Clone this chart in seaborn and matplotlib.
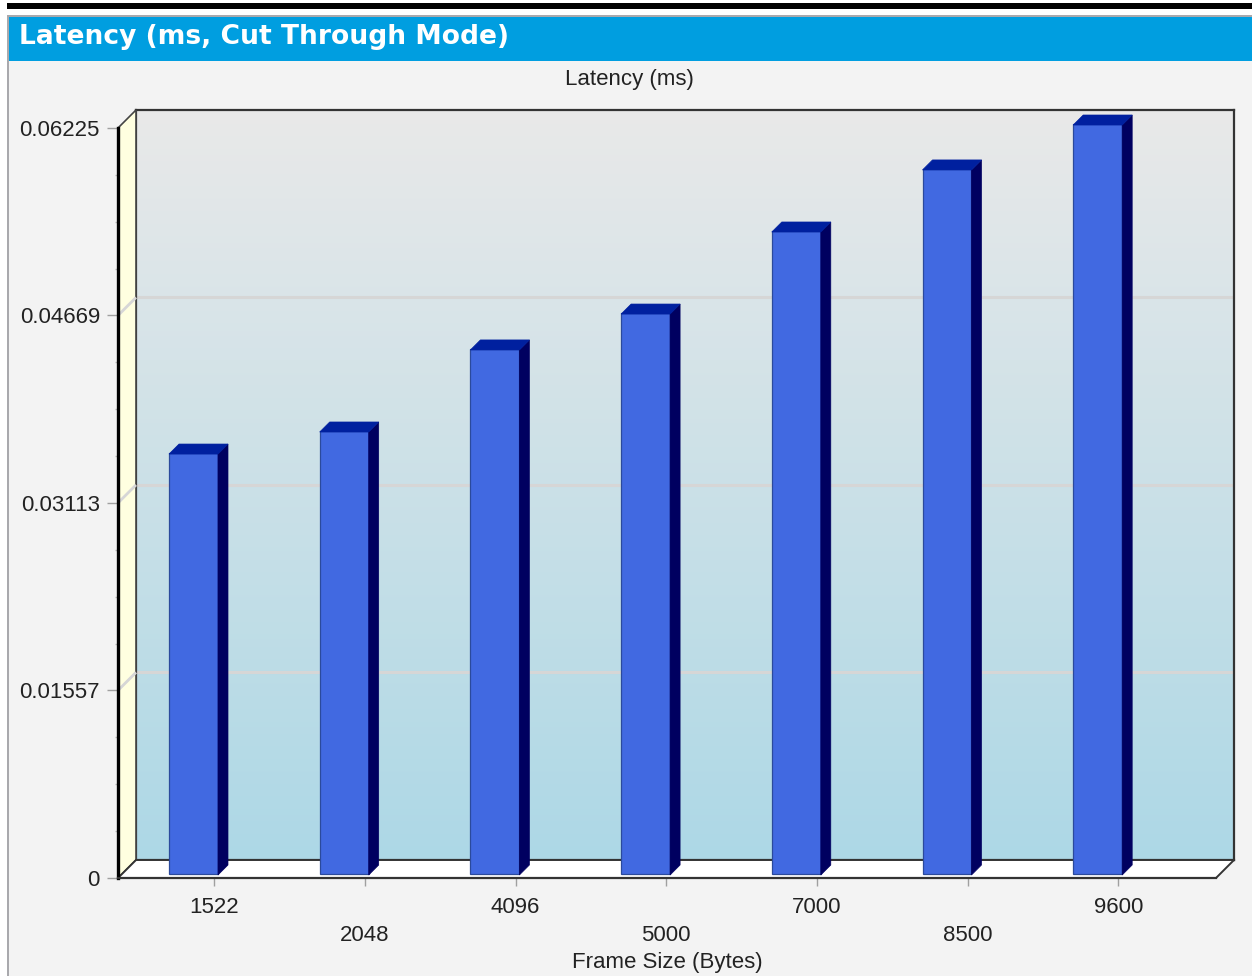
import numpy as np
import pandas as pd
import matplotlib
matplotlib.use('Agg')
import matplotlib.pyplot as plt
from matplotlib.patches import Polygon, Rectangle
from matplotlib.transforms import ScaledTranslation
import seaborn as sns

# values
frame_sizes = ['1522', '2048', '4096', '5000', '7000', '8500', '9600']
latency = [0.03494, 0.03677, 0.04358, 0.04656, 0.05337, 0.05852, 0.06225]
y_ticks = [0, 0.01557, 0.03113, 0.04669, 0.06225]
y_tick_labels = ['0', '0.01557', '0.03113', '0.04669', '0.06225']

W, H = 1252, 976
DEPTH_X, DEPTH_Y = 18, 18      # wall depth, pixels
BAR_DX, BAR_DY = 10, 10        # bar depth, pixels


def box(left, top, right, bottom):
    return [left / W, 1 - bottom / H, (right - left) / W, (bottom - top) / H]


def fig_poly(points, **kw):
    pts = [(x / W, 1 - y / H) for x, y in points]
    fig.add_artist(Polygon(pts, closed=True, transform=fig.transFigure, **kw))


sns.set_theme(style="white")
plt.rcParams['font.family'] = ['Liberation Sans', 'DejaVu Sans']

df = pd.DataFrame({'Frame': frame_sizes, 'Latency': latency})

fig = plt.figure(figsize=(W / 100, H / 100), dpi=100, facecolor='white')

# page panel and header
fig.add_artist(Rectangle((7 / W, 1 - 9 / H), 1 - 7 / W, 6 / H, transform=fig.transFigure, color='black', lw=0))
fig.add_artist(Rectangle((7 / W, 0), 1 - 7 / W, 1 - 15 / H, transform=fig.transFigure,
                         facecolor='#a9a9ad', lw=0))
fig.add_artist(Rectangle((9 / W, 0), 1 - 9 / W, 1 - 17 / H, transform=fig.transFigure,
                         facecolor='#f3f3f3', lw=0))
fig.add_artist(Rectangle((9 / W, 1 - 61 / H), 1 - 9 / W, 44 / H, transform=fig.transFigure,
                         facecolor='#009ee0', lw=0))
fig.text(19 / W, 1 - 37 / H, 'Latency (ms, Cut Through Mode)', color='white', fontsize=19.1,
         fontweight='bold', family='DejaVu Sans', va='center', ha='left')
fig.text(629 / W, 1 - 79 / H, 'Latency (ms)', color='#222222', fontsize=16, ha='center', va='center')

# back wall, with the gradient and its grid
wall = fig.add_axes(box(136, 110, 1234, 860), zorder=1)
top_col = np.array(matplotlib.colors.to_rgb('#e9e9e9'))
bot_col = np.array(matplotlib.colors.to_rgb('#add8e6'))
steps = np.linspace(0, 1, 256)[:, None, None]
wall.imshow(top_col * (1 - steps) + bot_col * steps, aspect='auto',
            extent=(0, 1, 0, max(y_ticks)), zorder=0)
wall.set_ylim(0, max(y_ticks))
wall.set_yticks(y_ticks[1:-1])
wall.set_xticks([])
wall.tick_params(left=False, labelleft=False)
wall.grid(axis='y', color='#d6d6d6', lw=2.2)
for s in wall.spines.values():
    s.set_color('#333333')
    s.set_linewidth(1.6)

# side wall and floor
fig_poly([(118, 128), (136, 110), (136, 860), (118, 878)], facecolor='#ffffe0', edgecolor='#444444', lw=1.2, zorder=2)
fig_poly([(118, 878), (136, 860), (1234, 860), (1216, 878)], facecolor='white', edgecolor='#333333', lw=1.4, zorder=2)

# front plane holds the scales and the bars
ax = fig.add_axes(box(118, 128, 1216, 878), zorder=3)
ax.patch.set_alpha(0)
sns.barplot(data=df, x='Frame', y='Latency', ax=ax, color='#4169e1', saturation=1, width=0.325,
            edgecolor='#2b4a9c', linewidth=0.9)
ax.set_xlim(-0.501, 6.785)
ax.set_ylim(0, max(y_ticks))

# bars stand a little behind the front edge
lift = ScaledTranslation(0, 3 / 72, fig.dpi_scale_trans)
for p in ax.patches:
    p.set_transform(ax.transData + lift)
    p.set_clip_on(False)
    (x0, y0), (x1, y1) = ax.transData.transform([(p.get_x(), 0), (p.get_x() + p.get_width(), p.get_height())])
    y0 += 3
    y1 += 3
    side = [(x1, y0), (x1 + BAR_DX, y0 + BAR_DY), (x1 + BAR_DX, y1 + BAR_DY), (x1, y1)]
    roof = [(x0, y1), (x0 + BAR_DX, y1 + BAR_DY), (x1 + BAR_DX, y1 + BAR_DY), (x1, y1)]
    ax.add_patch(Polygon(side, closed=True, transform=None, facecolor='#000060', edgecolor='#000060', lw=0.5, clip_on=False))
    ax.add_patch(Polygon(roof, closed=True, transform=None, facecolor='#00209f', edgecolor='#00209f', lw=0.5, clip_on=False))

# grid continues across the side wall
for v in y_ticks[1:-1]:
    _, yp = ax.transData.transform((0, v))
    yf = H - yp
    fig_poly([(118, yf), (136, yf - DEPTH_Y)], fill=False, edgecolor='#d6d6d6', lw=2, zorder=2.5)

for name in ['top', 'right']:
    ax.spines[name].set_visible(False)
ax.spines['left'].set_color('black')
ax.spines['left'].set_linewidth(2.4)
ax.spines['bottom'].set_color('#333333')
ax.spines['bottom'].set_linewidth(1.6)

# y axis
ax.set_yticks(y_ticks)
ax.set_yticklabels(y_tick_labels)
minor = [a + (b - a) * k / 4 for a, b in zip(y_ticks[:-1], y_ticks[1:]) for k in (1, 2, 3)]
ax.set_yticks(minor, minor=True)
ax.tick_params(axis='y', which='major', left=True, length=8, width=1, color='#a0a0a0', pad=5,
               labelsize=16, labelcolor='#222222')
ax.tick_params(axis='y', which='minor', left=True, length=2, width=1, color='#b8b8b8')

# x axis, ticks sit on the front edge so they are shifted from the bar centres
ax.set_xticks(np.arange(len(frame_sizes)) + 0.137)
ax.set_xticklabels(frame_sizes)
ax.tick_params(axis='x', bottom=True, length=6, width=1, color='#a0a0a0', labelsize=16, labelcolor='#222222', pad=8)
for i, t in enumerate(ax.xaxis.get_major_ticks()):
    t.set_pad(8 if i % 2 == 0 else 28)
ax.set_xlabel('Frame Size (Bytes)', fontsize=16, color='#222222', labelpad=4)
ax.set_ylabel('')

fig.savefig('out.png', dpi=100, facecolor=fig.get_facecolor())
